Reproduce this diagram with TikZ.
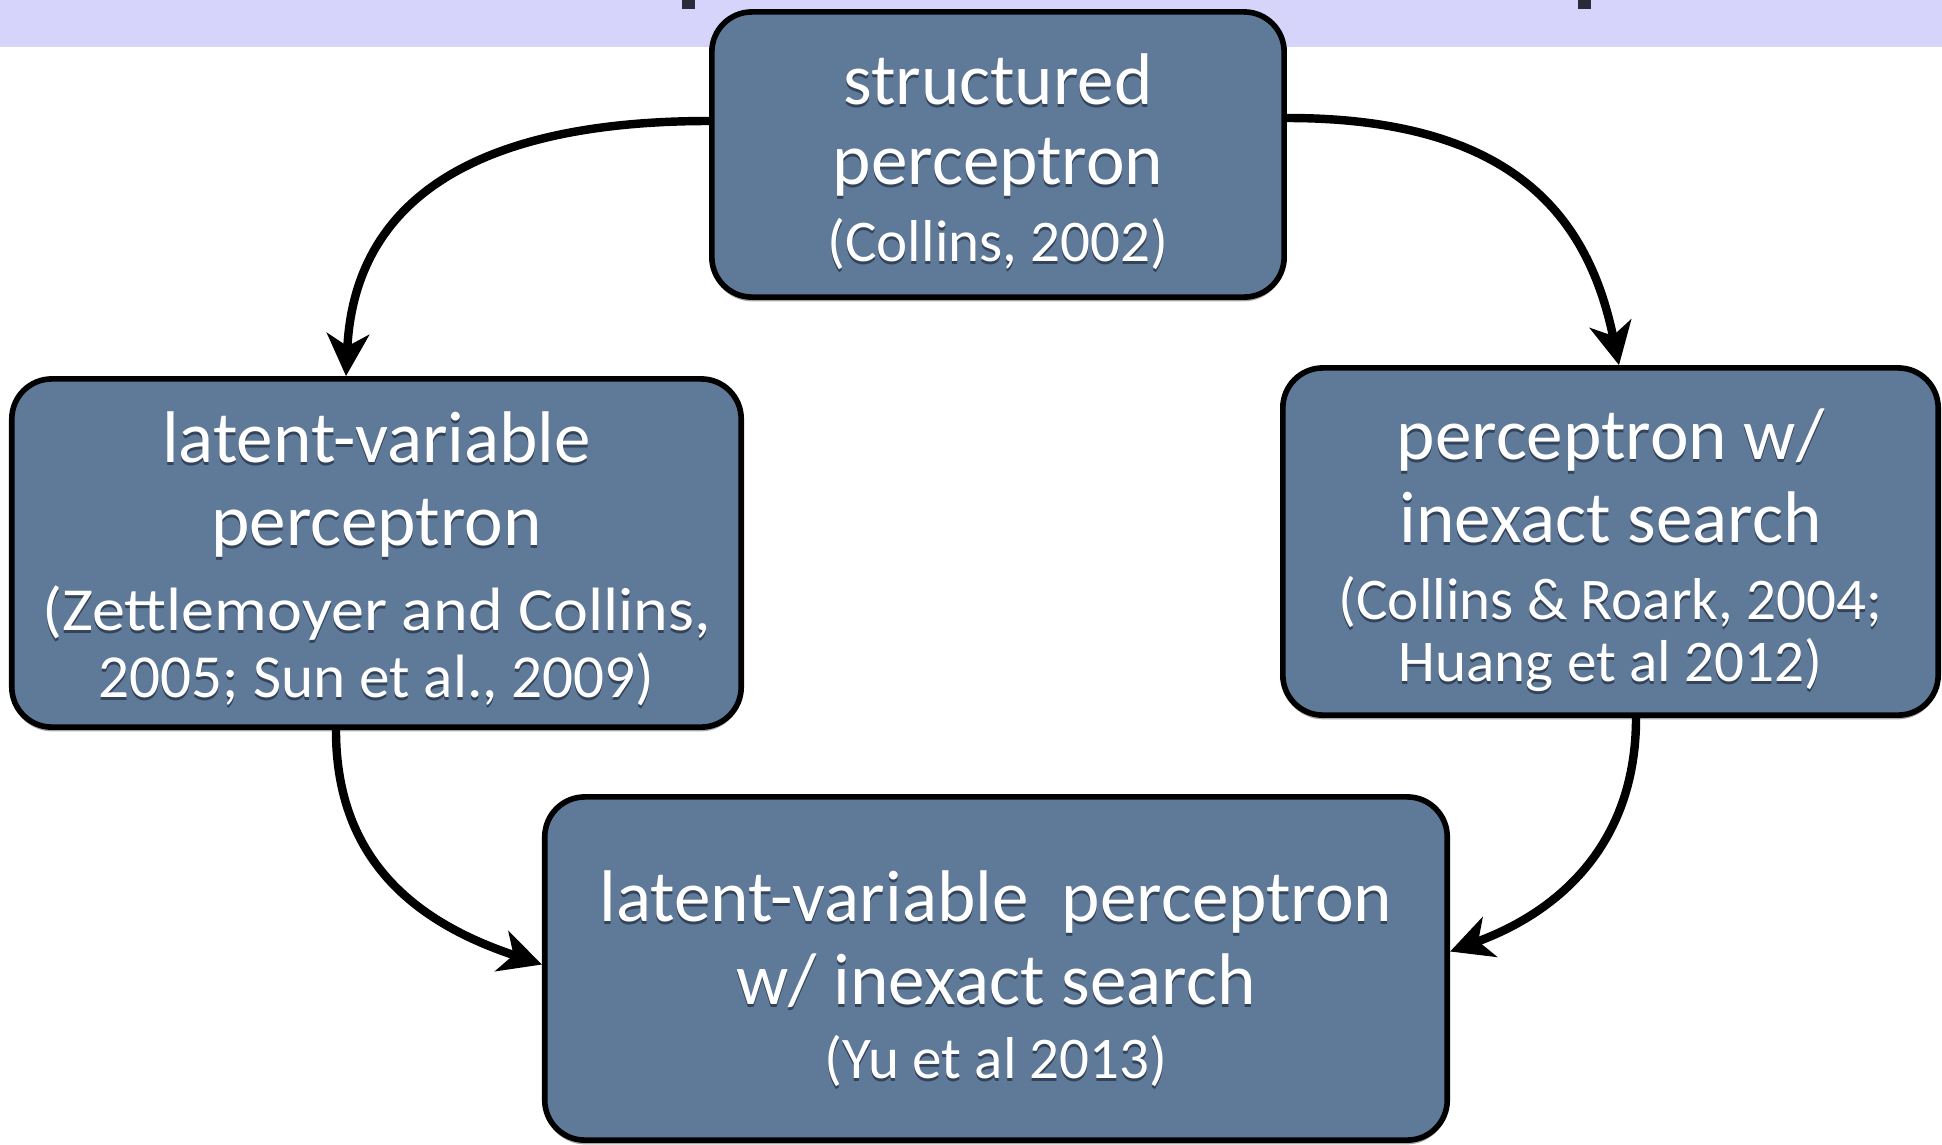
\documentclass[tikz,border=0pt]{standalone}
\usepackage{fontspec}
\setmainfont{Carlito}
\usetikzlibrary{arrows.meta,shadows}
\definecolor{slate}{HTML}{5F7A98}
\definecolor{slatedark}{HTML}{33445A}
\definecolor{band}{HTML}{D6D4FB}
\definecolor{glyph}{HTML}{2A2A3A}
% white lettering with a soft dark shadow beneath
\newcommand\shtext[1]{\leavevmode\rlap{\raisebox{-0.9pt}{\textcolor{slatedark}{#1}}}\textcolor{white}{#1}}
\begin{document}
\begin{tikzpicture}[x=0.01cm,y=-0.01cm,
  box/.style={draw=black, line width=1.6pt, fill=slate, rounded corners=0.4cm, inner sep=0pt,
    drop shadow={shadow xshift=0pt, shadow yshift=-1.2pt, opacity=0.35, fill=black}},
  big/.style={anchor=base, inner sep=0pt, font=\fontsize{20.8}{25}\selectfont},
  small/.style={anchor=base, inner sep=0pt, font=\fontsize{16.8}{20}\selectfont},
  smallL/.style={small, font=\fontsize{17.4}{21}\selectfont},
  link/.style={line width=2.4pt, -{Stealth[length=12pt,width=12pt,inset=3.5pt]}}]
\useasboundingbox (0,0) rectangle (1942,1144);
\fill[white] (0,0) rectangle (1942,1144);
% title band with the clipped title descenders
\fill[band] (0,0) rectangle (1942,47);
\fill[glyph] (682,0) rectangle (695,9);
\fill[glyph] (1578,0) rectangle (1591,9);

% boxes
\node[box, minimum width=5.72cm, minimum height=2.85cm] (top) at (998,154.5) {};
\node[box, minimum width=7.29cm, minimum height=3.48cm] (left) at (376.5,553) {};
\node[box, minimum width=6.55cm, minimum height=3.47cm] (right) at (1610.5,541.5) {};
\node[box, minimum width=9.02cm, minimum height=3.43cm] (bottom) at (996,968.5) {};

% box texts
\node[big] (top1) at (998,104) {\shtext{structured}};
\node[big] (top2) at (998,184) {\shtext{perceptron}};
\node[small] (top3) at (998,261) {\shtext{(Collins, 2002)}};

\node[big] (left1) at (376.5,462) {\shtext{latent-variable}};
\node[big] (left2) at (376.5,545) {\shtext{perceptron}};
\node[smallL] (left3) at (376.5,630) {\scalebox{1.08}[1]{\shtext{(Zettlemoyer and Collins,}}};
\node[smallL] (left4) at (376.5,697) {\shtext{2005; Sun et al., 2009)}};

\node[big] (right1) at (1610.5,459) {\shtext{perceptron w/}};
\node[big] (right2) at (1610.5,542) {\shtext{inexact search}};
\node[small] (right3) at (1610.5,619) {\shtext{(Collins \& Roark, 2004;}};
\node[small] (right4) at (1610.5,681) {\shtext{Huang et al 2012)}};

\node[big] (bottom1) at (996,921) {\shtext{latent-variable\ \ perceptron}};
\node[big] (bottom2) at (996,1004) {\shtext{w/ inexact search}};
\node[small] (bottom3) at (996,1078) {\shtext{(Yu et al 2013)}};

% connectors
\draw[link] ([yshift=0.335cm]top.west) .. controls +(-250,0) and +(8,-165) .. ([xshift=-0.305cm]left.north);
\draw[link] ([yshift=0.365cm]top.east) .. controls +(230,0) and +(-30,-145) .. ([xshift=0.085cm]right.north);
\draw[link] ([xshift=-0.405cm]left.south) .. controls +(0,135) and +(-120,-40) .. ([yshift=0.04cm]bottom.west);
\draw[link] ([xshift=0.255cm]right.south) .. controls +(0,125) and +(110,-40) .. ([yshift=0.17cm]bottom.east);
\end{tikzpicture}
\end{document}
